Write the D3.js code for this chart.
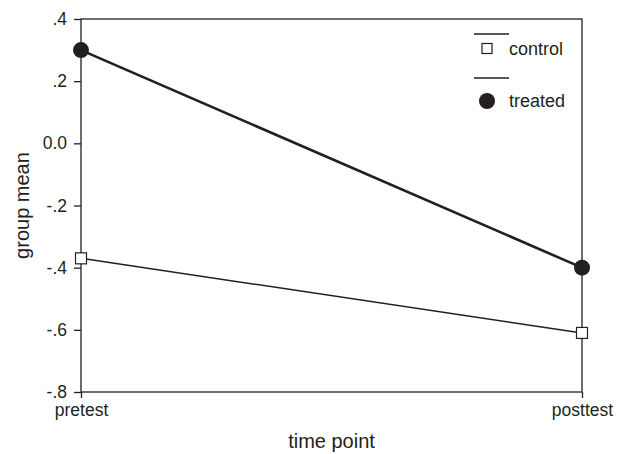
<!DOCTYPE html>
<html><head><meta charset="utf-8">
<script src="https://cdn.jsdelivr.net/npm/d3@7"></script>
<style>body{margin:0;background:#fff}text{font-family:"Liberation Sans",Arial,sans-serif;fill:#231f20}</style>
</head><body>
<svg id="c" width="627" height="454"></svg>
<script>
const timePoints = ["pretest", "posttest"];
const controlMeans = [-0.37, -0.61];
const treatedMeans = [0.30, -0.40];
const yTicks = [0.4, 0.2, 0.0, -0.2, -0.4, -0.6, -0.8];
const yTickLabels = [".4", ".2", "0.0", "-.2", "-.4", "-.6", "-.8"];
const seriesNames = ["control", "treated"];

const ink = "#231f20";
const svg = d3.select("#c");
const L = 81, R = 582, T = 19, B = 392;
const x = d3.scalePoint().domain(timePoints).range([L, R]);
const y = d3.scaleLinear().domain([-0.8, 0.4]).range([B, T]);

// frame
svg.append("rect").attr("x", L).attr("y", T).attr("width", R - L).attr("height", B - T)
  .attr("fill", "none").attr("stroke", ink).attr("stroke-width", 1.3);

const yAxis = svg.append("g").attr("transform", `translate(${L},0)`)
  .call(d3.axisLeft(y).tickValues(yTicks).tickSize(7).tickPadding(7)
    .tickFormat((d, i) => yTickLabels[i]));
const xAxis = svg.append("g").attr("transform", `translate(0,${B})`)
  .call(d3.axisBottom(x).tickSize(6).tickPadding(6));
[yAxis, xAxis].forEach(g => {
  g.select(".domain").remove();
  g.selectAll("line").attr("stroke", ink).attr("stroke-width", 1.3);
  g.selectAll("text").style("font-size", "17.5px").attr("fill", ink)
    .style("font-family", '"Liberation Sans", Arial, sans-serif');
});

svg.append("text").attr("x", (L + R) / 2).attr("y", 448).attr("text-anchor", "middle")
  .style("font-size", "20px").text("time point");
svg.append("text").attr("transform", `translate(29,${(T + B) / 2}) rotate(-90)`)
  .attr("text-anchor", "middle").style("font-size", "20px").text("group mean");

const line = d3.line().x((d, i) => x(timePoints[i])).y(d => y(d));
svg.append("path").datum(controlMeans).attr("d", line).attr("fill", "none")
  .attr("stroke", ink).attr("stroke-width", 1.5);
svg.append("path").datum(treatedMeans).attr("d", line).attr("fill", "none")
  .attr("stroke", ink).attr("stroke-width", 2.6);

const s = 11;
svg.selectAll(".ctl").data(controlMeans).enter().append("rect")
  .attr("x", (d, i) => x(timePoints[i]) - s / 2).attr("y", d => y(d) - s / 2)
  .attr("width", s).attr("height", s).attr("fill", "#fff").attr("stroke", ink).attr("stroke-width", 1.2);
svg.selectAll(".trt").data(treatedMeans).enter().append("circle")
  .attr("cx", (d, i) => x(timePoints[i])).attr("cy", d => y(d)).attr("r", 8).attr("fill", ink);

// legend
const lg = svg.append("g");
[34, 78].forEach(yy => lg.append("line").attr("x1", 474).attr("x2", 509).attr("y1", yy).attr("y2", yy)
  .attr("stroke", ink).attr("stroke-width", 1.3));
lg.append("rect").attr("x", 487 - 5).attr("y", 48.5 - 5).attr("width", 10).attr("height", 10)
  .attr("fill", "#fff").attr("stroke", ink).attr("stroke-width", 1.2);
lg.append("circle").attr("cx", 487).attr("cy", 101).attr("r", 8).attr("fill", ink);
lg.append("text").attr("x", 509).attr("y", 55).style("font-size", "18px").text(seriesNames[0]);
lg.append("text").attr("x", 509).attr("y", 107).style("font-size", "18px").text(seriesNames[1]);
</script>
</body></html>
